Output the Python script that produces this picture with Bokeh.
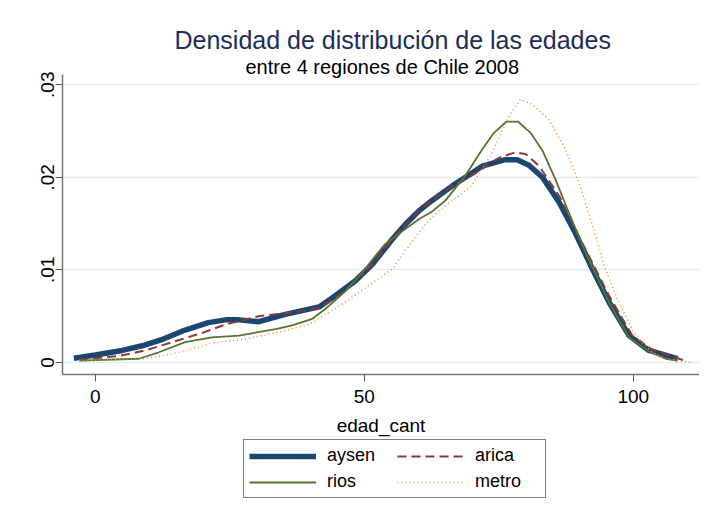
from bokeh.plotting import figure
from bokeh.layouts import column
from bokeh.models import Range1d, FixedTicker, Legend, LegendItem, Title
from bokeh.embed import file_html
from bokeh.resources import INLINE

# ---- data ----
aysen_x = [-4, 0, 5, 8.7, 12.5, 16.7, 21, 24.2, 26.7, 30.4, 35.3, 41.6, 44.6, 48.3, 51.5,
           55.2, 57.6, 60.2, 62.6, 66.4, 68.8, 71.9, 76.2, 78.4, 80.6, 83.1, 86.2, 89.2,
           92.4, 95.5, 99.2, 102.9, 108.2]
aysen_y = [0.00046, 0.0008, 0.0013, 0.0018, 0.0025, 0.0035, 0.0043, 0.0046, 0.0046, 0.0044,
           0.0052, 0.0060, 0.0072, 0.0088, 0.0106, 0.0133, 0.0149, 0.0164, 0.0175, 0.0191,
           0.0200, 0.0212, 0.0219, 0.0219, 0.0213, 0.0200, 0.0173, 0.0140, 0.0101, 0.0065,
           0.0029, 0.0013, 0.0004]

arica_x = [-3, 4.4, 9.3, 14.3, 19.9, 24.2, 30.4, 36.6, 41.6, 45.9, 48.3, 51.5, 55.2, 57.6,
           60.2, 62.6, 66.4, 70, 75, 78.1, 80, 82.5, 86.2, 90.5, 95.5, 99.8, 103.5, 108.5, 110]
arica_y = [0.0003, 0.0007, 0.0013, 0.0022, 0.0032, 0.0041, 0.0050, 0.0054, 0.0059, 0.0075,
           0.0088, 0.0106, 0.0133, 0.0149, 0.0164, 0.0175, 0.0191, 0.0202, 0.0221, 0.0227,
           0.0225, 0.0212, 0.0180, 0.0129, 0.0072, 0.0029, 0.0014, 0.0004, 0.0001]

rios_x = [-3, 8.1, 11.8, 16.7, 21.7, 26.7, 33.5, 36.6, 40.3, 42.8, 46.5, 49.6, 51.5, 53.9,
          57.1, 60.2, 62.6, 65.1, 68.8, 71.9, 74.1, 76.4, 78.6, 80.9, 83.1, 85.5, 88, 91.1,
          95.5, 99.2, 102.9, 106, 108.2]
rios_y = [0.0002, 0.0004, 0.0011, 0.0022, 0.0027, 0.0029, 0.0036, 0.0040, 0.0047, 0.0058,
          0.0077, 0.0097, 0.0111, 0.0128, 0.0142, 0.0155, 0.0163, 0.0175, 0.0202, 0.0230,
          0.0248, 0.0260, 0.0260, 0.0248, 0.0229, 0.0198, 0.0162, 0.0119, 0.0065, 0.0027,
          0.0012, 0.0004, 0.0002]

metro_x = [-3, 9.3, 15.6, 21.7, 26.7, 33.5, 39.7, 45.9, 52, 55.2, 58.3, 61.3, 63.9, 66.4,
           70, 73.8, 76.9, 79, 81.2, 84.3, 87.4, 89.9, 92.4, 94.8, 97.3, 100.4, 103.5, 106,
           110.6]
metro_y = [0.0002, 0.0004, 0.0011, 0.0021, 0.0024, 0.0032, 0.0041, 0.0063, 0.0088, 0.0101,
           0.0126, 0.0149, 0.0164, 0.0175, 0.0191, 0.0227, 0.0266, 0.0284, 0.0279, 0.0262,
           0.0230, 0.0194, 0.0148, 0.0101, 0.0065, 0.0029, 0.0011, 0.0004, 0.0]

series_names = ["aysen", "arica", "rios", "metro"]
series_x = {"aysen": aysen_x, "arica": arica_x, "rios": rios_x, "metro": metro_x}
series_y = {"aysen": aysen_y, "arica": arica_y, "rios": rios_y, "metro": metro_y}

x_ticks = [0, 50, 100]
y_ticks = [0, 0.01, 0.02, 0.03]
y_tick_labels = ["0", ".01", ".02", ".03"]

title_text = "Densidad de distribución de las edades"
subtitle_text = "entre 4 regiones de Chile 2008"
x_label = "edad_cant"

FONT = "Liberation Sans"

styles = {
    "aysen": dict(line_color="#1a476f", line_width=5.5, line_join="round"),
    "arica": dict(line_color="#90353b", line_width=2, line_dash="9 5"),
    "rios": dict(line_color="#55752f", line_width=1.8),
    "metro": dict(line_color="#e8902a", line_width=1.6, line_dash="1 3"),
}

p = figure(width=699, height=449, output_backend="svg", toolbar_location=None,
           x_range=Range1d(-6.1, 112.3), y_range=Range1d(-0.0013, 0.0311),
           min_border_left=62, min_border_right=0, min_border_top=74,
           min_border_bottom=75, title=title_text)

p.title.text_font = FONT
p.title.text_font_size = "25px"
p.title.text_font_style = "normal"
p.title.text_color = "#1c2d5a"
p.title.align = "left"
p.title.standoff = 7
p.title.offset = 112

sub = Title(text=subtitle_text, align="left", text_font=FONT,
            text_font_size="20px", text_font_style="normal",
            text_color="#000000", standoff=-7, offset=183)
p.add_layout(sub, "above")

p.outline_line_color = None
p.background_fill_color = "white"
p.border_fill_color = "white"

# grid
p.xgrid.grid_line_color = None
p.ygrid.ticker = FixedTicker(ticks=y_ticks)
p.ygrid.grid_line_color = "#e3ebef"
p.ygrid.grid_line_width = 1.5

# axes
for ax in (p.xaxis[0], p.yaxis[0]):
    ax.axis_line_color = "#767676"
    ax.axis_line_width = 1.5
    ax.major_tick_line_color = "#555555"
    ax.major_tick_line_width = 1
    ax.major_tick_in = 0
    ax.major_tick_out = 7
    ax.minor_tick_line_color = None
    ax.major_label_text_font = FONT
    ax.major_label_text_font_size = "19px"
    ax.major_label_text_color = "#000000"

p.xaxis.ticker = FixedTicker(ticks=x_ticks)
p.xaxis.major_label_standoff = 8
p.xaxis.axis_label = x_label
p.xaxis.axis_label_text_font = FONT
p.xaxis.axis_label_text_font_size = "19px"
p.xaxis.axis_label_text_font_style = "normal"
p.xaxis.axis_label_text_color = "#000000"
p.xaxis.axis_label_standoff = 9

p.yaxis.ticker = FixedTicker(ticks=y_ticks)
p.yaxis.major_label_overrides = {t: l for t, l in zip(y_ticks, y_tick_labels)}
p.yaxis.major_label_orientation = "vertical"
p.yaxis.major_label_standoff = 1

# lines
for name in series_names:
    p.line(series_x[name], series_y[name], **styles[name])

# ---- legend strip below the plot (slightly overlapping the plot's bottom border) ----
q = figure(width=699, height=72, output_backend="svg", toolbar_location=None,
           x_range=Range1d(-6.1, 112.3), y_range=Range1d(10, 11), min_border=0,
           x_axis_location=None, y_axis_location=None, margin=(-17, 0, 0, 0))
q.grid.visible = False
q.outline_line_color = None
q.background_fill_alpha = 0
q.border_fill_alpha = 0

# legend proxies: same series, drawn outside this strip's visible range
proxies = {name: q.line(series_x[name], series_y[name], **styles[name]) for name in series_names}

legend = Legend(items=[LegendItem(label=name, renderers=[proxies[name]]) for name in series_names],
                orientation="horizontal", ncols=2, location=(181, 6))
legend.label_text_font = FONT
legend.label_text_font_size = "18px"
legend.label_text_color = "#000000"
legend.glyph_width = 67
legend.glyph_height = 20
legend.label_standoff = 11
legend.label_height = 20
legend.label_width = 65
legend.padding = 5
legend.spacing = 5
legend.margin = 0
legend.border_line_color = "#000000"
legend.border_line_width = 1
legend.background_fill_color = "white"
legend.background_fill_alpha = 1
q.add_layout(legend, "center")

layout = column(p, q, spacing=0)
open("out.html", "w").write(file_html(layout, INLINE))
